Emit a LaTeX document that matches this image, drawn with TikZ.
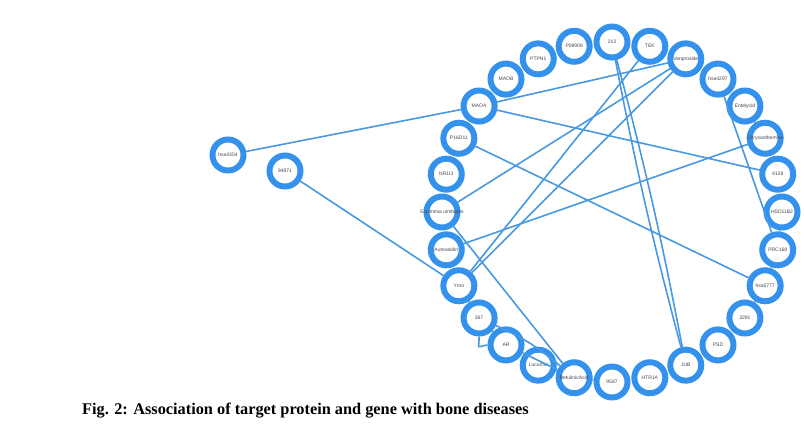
\documentclass[tikz,border=0pt]{standalone}
\usepackage{fontspec}
\setmainfont{Liberation Serif}
\newfontfamily\labfont{Liberation Sans}

\definecolor{ringblue}{RGB}{52,146,236}
\definecolor{linkblue}{RGB}{72,152,226}
\definecolor{labgray}{RGB}{70,70,80}

\begin{document}
\begin{tikzpicture}[x=1pt, y=-1pt, >=stealth]

  % Estilos
  \tikzset{
    ring/.style={circle, draw=ringblue, line width=6pt, fill=white,
                 minimum size=31pt, inner sep=0pt},
    lab/.style={font=\labfont\fontsize{5}{6}\selectfont, text=labgray},
    link/.style={draw=linkblue, line width=1.6pt},
  }

  \useasboundingbox (0,0) rectangle (804,440);

  % Centro e raio do anel
  \def\cx{612}
  \def\cy{212}
  \def\rr{170}

  % Nós do anel (sentido horário a partir do topo)
  \foreach \name/\lab [count=\i from 0] in {
      n213/213, tek/TEK, vanp/Vanproside, hsa4297/hsa4297,
      entely/Entelycid, chrys/Chrysanthemine, e4128/4128, hsd/HSD11B2,
      prc/PRC168, hsa5777/hsa5777, n3291/3291, psd/PSD, jub/JUB,
      htr/HTR1A, n9587/9587, betul/BetulinicAcid, lucum/Lucumol, ar/AR,
      n367/367, yrno/Yrno, aurea/Aureasidin, excim/Excimmia ulmbates,
      nr/NR1I3, p16/P16D11, maoa/MAOA, maob/MAOB, ptpn/PTPN1,
      p08908/P08908}
    \node[ring, label={[lab]center:\lab}] (\name)
      at ({\cx+\rr*cos(90-\i*360/28)}, {\cy-\rr*sin(90-\i*360/28)}) {};

  % Nós de fora
  \node[ring, label={[lab]center:hsa4354}] (h4354) at (228,155) {};
  \node[ring, label={[lab]center:84971}]   (n84971) at (285,171) {};

  % Ligações
  \draw[link] (h4354) -- (maoa);
  \draw[link] (maoa) -- (vanp);
  \draw[link] (maoa) -- (e4128);
  \draw[link] (n84971) -- (yrno);
  \draw[link] (p16) -- (hsa5777);
  \draw[link] (excim) -- (vanp);
  \draw[link] (excim) -- (betul);
  \draw[link] (yrno) -- (tek);
  \draw[link] (yrno) -- (vanp);
  \draw[link] (aurea) -- (chrys);
  \draw[link] (n213) to[bend left=2] (jub);
  \draw[link] (n213) to[bend right=2] (jub);
  \draw[link] (hsa4297) -- (prc);
  \draw[link] (entely) -- (chrys);
  \draw[link] (hsd) -- (prc);
  \draw[link] (prc) -- (hsa5777);
  \draw[link] (hsa5777) -- (n3291);
  \draw[link] (yrno) -- (n367);
  \draw[link] (n367) -- (ar);
  \draw[link] (n367.south) .. controls +(0,14) and +(-12,2) .. (ar.west);
  \draw[link] (n367) to[bend left=8] (betul);
  \draw[link] (ar) -- (betul);
  \draw[link] (lucum) -- (betul);
  \draw[link] (betul) -- (n9587);

  % Legenda
  \node[anchor=west, font=\bfseries\fontsize{16.3}{19}\selectfont, inner sep=0pt]
    (caption) at (82,411) {Fig. 2: Association of target protein and gene with bone diseases};

\end{tikzpicture}
\end{document}
